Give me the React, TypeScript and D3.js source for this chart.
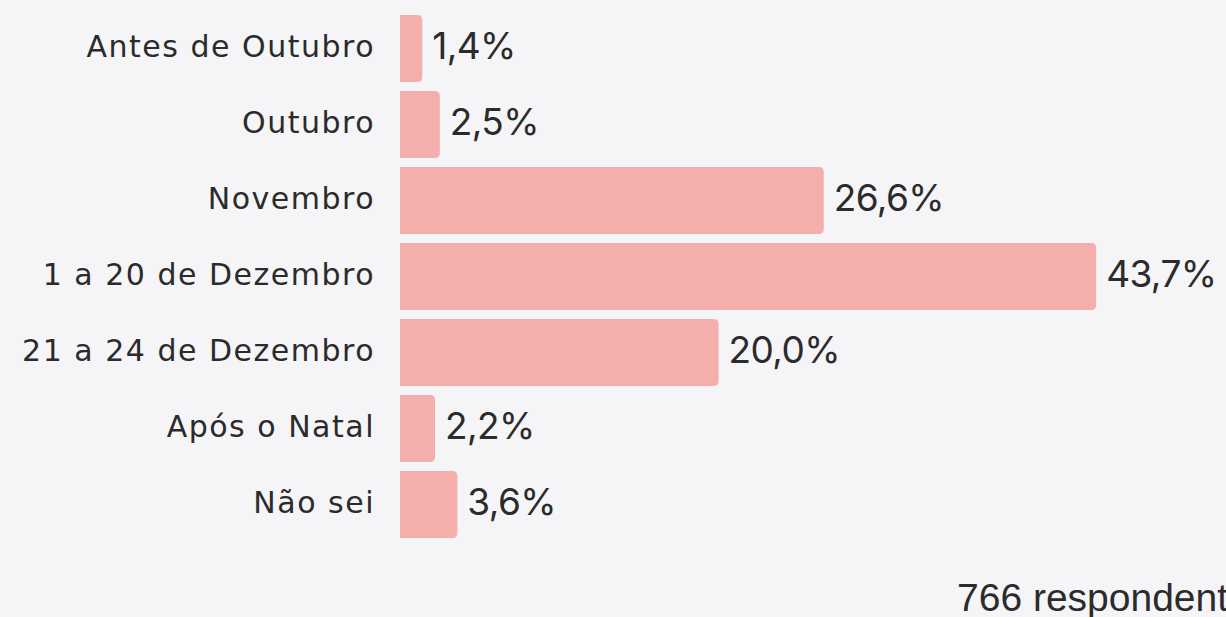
import React from "react";
import * as d3 from "d3";

const categories = [
  "Antes de Outubro",
  "Outubro",
  "Novembro",
  "1 a 20 de Dezembro",
  "21 a 24 de Dezembro",
  "Após o Natal",
  "Não sei",
];
const values = [1.4, 2.5, 26.6, 43.7, 20.0, 2.2, 3.6];
const footerText = "766 respondentes";

const W = 1226;
const H = 617;

function barPath(x0: number, y0: number, w: number, h: number, r: number) {
  const rr = Math.min(r, w, h / 2);
  return `M${x0},${y0}H${x0 + w - rr}Q${x0 + w},${y0} ${x0 + w},${y0 + rr}V${y0 + h - rr}Q${x0 + w},${y0 + h} ${x0 + w - rr},${y0 + h}H${x0}Z`;
}

export default function App() {
  const x = d3.scaleLinear().domain([0, 50]).range([400, 400 + 15.93 * 50]);
  const y = d3
    .scaleBand<string>()
    .domain(categories)
    .range([15, 15 + 76 * 6.88])
    .paddingInner(0.12)
    .paddingOuter(0);
  const fmt = (v: number) => v.toFixed(1).replace(".", ",") + "%";
  return (
    <svg
      width={W}
      height={H}
      style={{ position: "absolute", left: 0, top: 0, background: "#f5f5f7" }}
    >
      <rect x={0} y={0} width={W} height={H} fill="#f5f5f7" />
      {categories.map((c, i) => {
        const y0 = y(c)!;
        const bw = y.bandwidth();
        const xe = x(values[i]);
        return (
          <g key={c}>
            <path d={barPath(x(0), y0, xe - x(0), bw, 5)} fill="#f4aeab" />
            <text
              x={375}
              y={y0 + bw / 2 - 2}
              dy="0.35em"
              textAnchor="end"
              fontFamily="DejaVu Sans"
              fontSize={30}
              letterSpacing={1.5}
              fill="#2b2b2b"
            >
              {c}
            </text>
            <text
              x={xe + 10}
              y={y0 + bw / 2 - 3}
              dy="0.36em"
              fontFamily="Inter"
              fontSize={37}
              letterSpacing={-0.6}
              fill="#2b2b2b"
            >
              {fmt(values[i])}
            </text>
          </g>
        );
      })}
      <text
        x={957}
        y={611}
        fontFamily="Liberation Sans"
        fontSize={39}
        letterSpacing={0}
        fill="#2b2b2b"
      >
        {footerText}
      </text>
    </svg>
  );
}
